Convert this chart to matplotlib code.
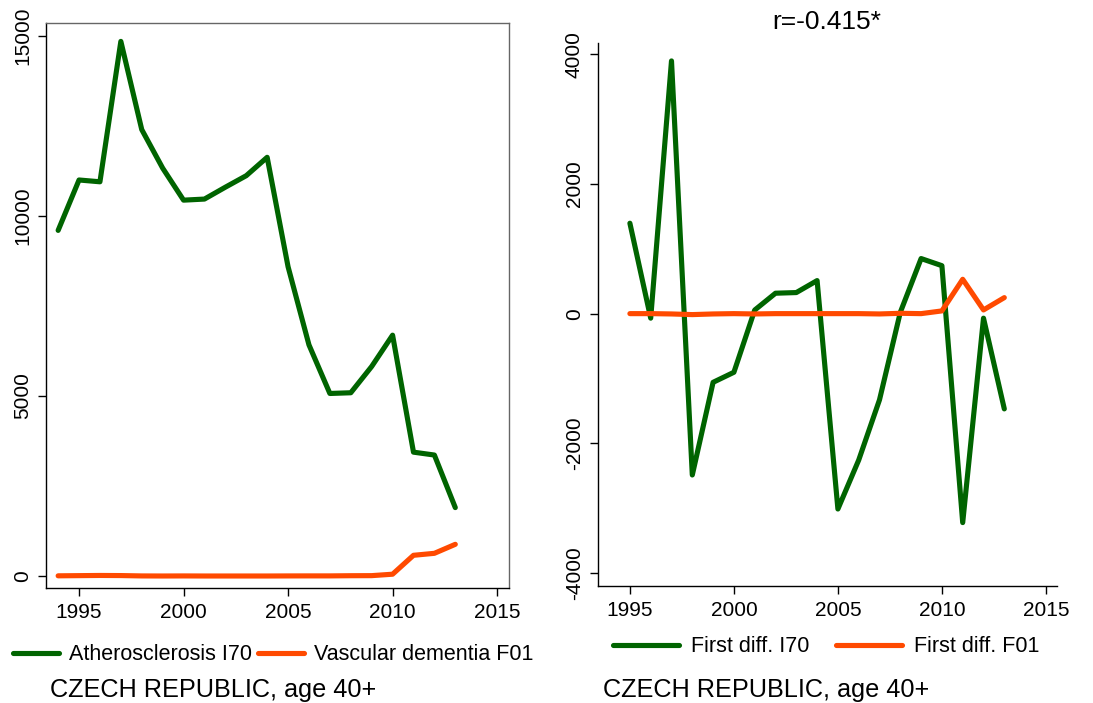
import matplotlib
matplotlib.use("Agg")
import matplotlib.pyplot as plt

plt.rcParams['font.family'] = ['Liberation Sans', 'DejaVu Sans']
plt.rcParams['axes.unicode_minus'] = False

years = list(range(1994, 2014))
athero_i70 = [9600, 11000, 10950, 14850, 12400, 11330, 10440, 10470, 10800, 11120,
              11630, 8590, 6420, 5070, 5090, 5820, 6690, 3440, 3360, 1900]
vasc_f01 = [5, 10, 15, 12, 2, 0, 2, 0, 0, 0,
            0, 2, 3, 3, 8, 10, 50, 575, 630, 880]

diff_years = list(range(1995, 2014))
diff_i70 = [1395, -70, 3900, -2490, -1060, -905, 55, 315, 325, 510,
            -3015, -2260, -1330, 20, 850, 740, -3225, -70, -1470]
diff_f01 = [0, 0, -5, -15, -5, 0, -5, 0, 0, 0,
            0, 0, -5, 5, 0, 42, 530, 57, 247]

green = '#006400'
orange = '#FF4A00'
lw = 3.7

fig = plt.figure(figsize=(10.93, 7.03), dpi=100)

# left panel: levels
ax1 = fig.add_axes([0.0421, 0.1636, 0.4236, 0.8037])
ax1.plot(years, athero_i70, color=green, lw=lw, label='Atherosclerosis I70', solid_capstyle='round')
ax1.plot(years, vasc_f01, color=orange, lw=lw, label='Vascular dementia F01', solid_capstyle='round')
ax1.set_xlim(1993.42, 2015.57)
ax1.set_ylim(-333, 15361)
ax1.set_xticks([1995, 2000, 2005, 2010, 2015])
ax1.set_yticks([0, 5000, 10000, 15000])
for s in ['top', 'right']:
    ax1.spines[s].set_color('#666666')

# right panel: first differences
ax2 = fig.add_axes([0.5468, 0.1669, 0.4202, 0.772])
ax2.plot(diff_years, diff_i70, color=green, lw=lw, label='First diff. I70', solid_capstyle='round')
ax2.plot(diff_years, diff_f01, color=orange, lw=lw, label='First diff. F01', solid_capstyle='round')
ax2.set_xlim(1993.45, 2015.53)
ax2.set_ylim(-4198, 4177)
ax2.set_xticks([1995, 2000, 2005, 2010, 2015])
ax2.set_yticks([-4000, -2000, 0, 2000, 4000])
ax2.spines['top'].set_visible(False)
ax2.spines['right'].set_visible(False)
fig.text(827 / 1093, 1 - 22 / 703, 'r=-0.415*', fontsize=19, ha='center', va='center')

for ax in (ax1, ax2):
    ax.tick_params(axis='both', labelsize=15, length=6, width=1, direction='out')
    ax.tick_params(axis='x', pad=5)
    ax.tick_params(axis='y', pad=4)
    for lab in ax.get_yticklabels():
        lab.set_rotation(90)
        lab.set_va('center')
    for s in ax.spines.values():
        s.set_linewidth(1)

fig.legend(handles=ax1.get_lines(), loc='center left', bbox_to_anchor=(12 / 1093 - 0.007, 1 - 655 / 703),
           ncol=2, frameon=False, fontsize=15.5, handlelength=2.14, handletextpad=0.45,
           columnspacing=0.28, borderaxespad=0)
fig.legend(handles=ax2.get_lines(), loc='center left', bbox_to_anchor=(612 / 1093 - 0.007, 1 - 647 / 703),
           ncol=2, frameon=False, fontsize=15.5, handlelength=3.07, handletextpad=0.55,
           columnspacing=1.26, borderaxespad=0)

fig.text(50 / 1093, 1 - 690 / 703, 'CZECH REPUBLIC, age 40+', fontsize=18.2, va='center', ha='left')
fig.text(603 / 1093, 1 - 690 / 703, 'CZECH REPUBLIC, age 40+', fontsize=18.2, va='center', ha='left')

fig.savefig('out.png', dpi=100)
